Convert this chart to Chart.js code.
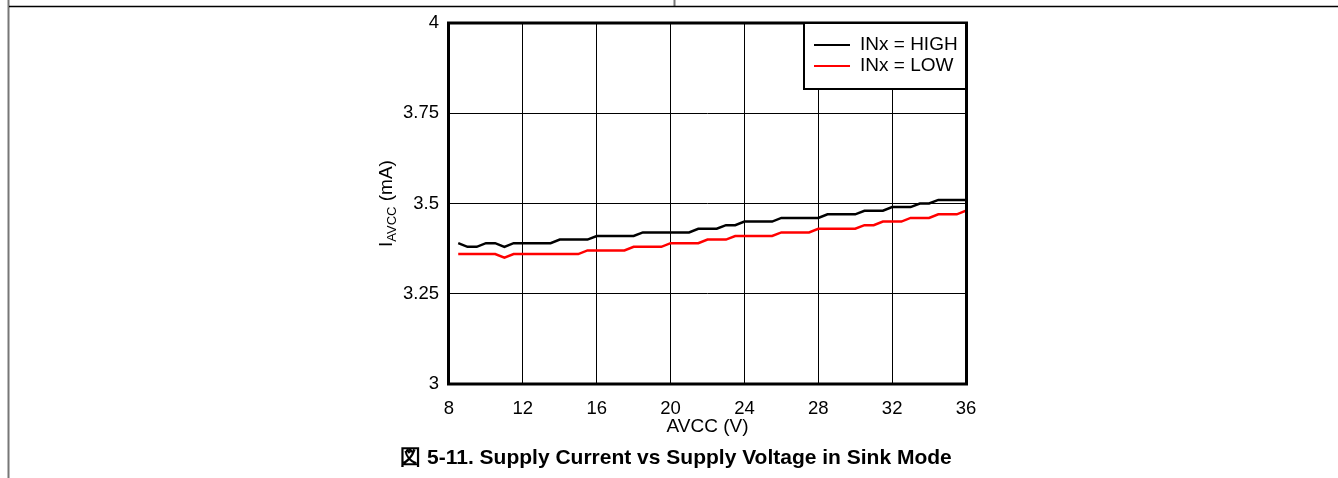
<!DOCTYPE html>
<html>
<head>
<meta charset="utf-8">
<script src="https://cdn.jsdelivr.net/npm/chart.js@4.4.1/dist/chart.umd.min.js"></script>
<style>
  html, body { margin: 0; padding: 0; background: #fff; }
  #wrap { width: 1338px; height: 478px; position: relative; }
</style>
</head>
<body>
<div id="wrap"><canvas id="chart" width="1338" height="478"></canvas></div>
<script>
// supply voltage, V (0.5 V steps)
const avcc = [8.5, 9, 9.5, 10, 10.5, 11, 11.5, 12, 12.5, 13, 13.5, 14, 14.5, 15, 15.5,
  16, 16.5, 17, 17.5, 18, 18.5, 19, 19.5, 20, 20.5, 21, 21.5, 22, 22.5, 23, 23.5,
  24, 24.5, 25, 25.5, 26, 26.5, 27, 27.5, 28, 28.5, 29, 29.5, 30, 30.5, 31, 31.5,
  32, 32.5, 33, 33.5, 34, 34.5, 35, 35.5, 36];

// supply current, mA
const inHigh = [3.39, 3.38, 3.38, 3.39, 3.39, 3.38, 3.39, 3.39, 3.39, 3.39, 3.39, 3.40, 3.40, 3.40, 3.40,
  3.41, 3.41, 3.41, 3.41, 3.41, 3.42, 3.42, 3.42, 3.42, 3.42, 3.42, 3.43, 3.43, 3.43, 3.44, 3.44,
  3.45, 3.45, 3.45, 3.45, 3.46, 3.46, 3.46, 3.46, 3.46, 3.47, 3.47, 3.47, 3.47, 3.48, 3.48, 3.48,
  3.49, 3.49, 3.49, 3.50, 3.50, 3.51, 3.51, 3.51, 3.51];
const inLow = [3.36, 3.36, 3.36, 3.36, 3.36, 3.35, 3.36, 3.36, 3.36, 3.36, 3.36, 3.36, 3.36, 3.36, 3.37,
  3.37, 3.37, 3.37, 3.37, 3.38, 3.38, 3.38, 3.38, 3.39, 3.39, 3.39, 3.39, 3.40, 3.40, 3.40, 3.41,
  3.41, 3.41, 3.41, 3.41, 3.42, 3.42, 3.42, 3.42, 3.43, 3.43, 3.43, 3.43, 3.43, 3.44, 3.44, 3.45,
  3.45, 3.45, 3.46, 3.46, 3.46, 3.47, 3.47, 3.47, 3.48];

const seriesNames = ['INx = HIGH', 'INx = LOW'];
const xTicks = [8, 12, 16, 20, 24, 28, 32, 36];
const yTicks = [3, 3.25, 3.5, 3.75, 4];
const caption = '図 5-11. Supply Current vs Supply Voltage in Sink Mode';

const FONT = 'Arial, "Liberation Sans", sans-serif';

function pts(ys) {
  return avcc.map((x, i) => ({ x: x, y: ys[i] }));
}

// page frame, plot border, legend box, axis titles, caption
const decor = {
  id: 'decor',
  afterDraw(chart) {
    const c = chart.ctx;
    const a = chart.chartArea;
    c.save();

    // page frame lines
    c.strokeStyle = '#777';
    c.lineWidth = 2;
    c.beginPath();
    c.moveTo(8.5, 0); c.lineTo(8.5, 478);
    c.moveTo(674.5, 0); c.lineTo(674.5, 6);
    c.stroke();
    c.strokeStyle = '#000';
    c.lineWidth = 1.5;
    c.beginPath();
    c.moveTo(9, 6.5); c.lineTo(1338, 6.5);
    c.stroke();

    // plot border
    c.lineWidth = 3;
    c.strokeStyle = '#000';
    c.strokeRect(a.left - 0.5, a.top, a.right - a.left + 1, a.bottom - a.top);

    // legend
    const lx = 804, ly = 23, lw = a.right - lx, lh = 66;
    c.fillStyle = '#fff';
    c.fillRect(lx, ly, lw, lh);
    c.lineWidth = 2;
    c.strokeRect(lx, ly, lw, lh);
    c.font = '19px ' + FONT;
    c.textBaseline = 'middle';
    chart.data.datasets.forEach((ds, i) => {
      const yy = ly + 22 + i * 21;
      c.strokeStyle = ds.borderColor;
      c.lineWidth = 2;
      c.beginPath();
      c.moveTo(lx + 10, yy); c.lineTo(lx + 46, yy);
      c.stroke();
      c.fillStyle = '#000';
      c.textAlign = 'left';
      c.fillText(ds.label, lx + 56, yy);
    });

    // y axis title: I_AVCC (mA)
    c.save();
    c.translate(386, (a.top + a.bottom) / 2);
    c.rotate(-Math.PI / 2);
    c.fillStyle = '#000';
    c.textBaseline = 'alphabetic';
    c.font = '19px ' + FONT;
    const wI = c.measureText('I').width;
    c.font = '13px ' + FONT;
    const wSub = c.measureText('AVCC').width;
    c.font = '19px ' + FONT;
    const wRest = c.measureText(' (mA)').width;
    const x0 = -(wI + wSub + wRest) / 2;
    c.textAlign = 'left';
    c.fillText('I', x0, 6);
    c.font = '13px ' + FONT;
    c.fillText('AVCC', x0 + wI, 10);
    c.font = '19px ' + FONT;
    c.fillText(' (mA)', x0 + wI + wSub, 6);
    c.restore();

    // x axis title
    c.font = '19px ' + FONT;
    c.fillStyle = '#000';
    c.textAlign = 'center';
    c.textBaseline = 'middle';
    c.fillText('AVCC (V)', (a.left + a.right) / 2, 427);

    // caption
    c.font = 'bold 21px ' + FONT;
    c.fillText(caption, 676, 458);

    c.restore();
  }
};

new Chart(document.getElementById('chart'), {
  type: 'line',
  data: {
    datasets: [
      { label: seriesNames[0], data: pts(inHigh), borderColor: '#000000', borderWidth: 2.5, pointRadius: 0, tension: 0, fill: false },
      { label: seriesNames[1], data: pts(inLow), borderColor: '#ff0000', borderWidth: 2.5, pointRadius: 0, tension: 0, fill: false }
    ]
  },
  options: {
    responsive: false,
    animation: false,
    devicePixelRatio: 1,
    layout: { padding: { left: 0, top: 23, right: 372, bottom: 54 } },
    plugins: { legend: { display: false }, tooltip: { enabled: false } },
    scales: {
      x: {
        type: 'linear',
        min: 8, max: 36,
        afterBuildTicks(s) { s.ticks = xTicks.map(v => ({ value: v })); },
        afterFit(s) { s.height = 40; },
        grid: { color: '#000', lineWidth: 1, drawTicks: false },
        border: { display: false },
        ticks: { color: '#000', font: { family: FONT, size: 18.5 }, padding: 14, maxRotation: 0, autoSkip: false },
        title: { display: false }
      },
      y: {
        type: 'linear',
        min: 3, max: 4,
        afterBuildTicks(s) { s.ticks = yTicks.map(v => ({ value: v })); },
        afterFit(s) { s.width = 449; },
        grid: { color: '#000', lineWidth: 1, drawTicks: false },
        border: { display: false },
        ticks: { color: '#000', font: { family: FONT, size: 18.5 }, padding: 10,
          callback: v => String(v) }
      }
    }
  },
  plugins: [decor]
});
</script>
</body>
</html>
